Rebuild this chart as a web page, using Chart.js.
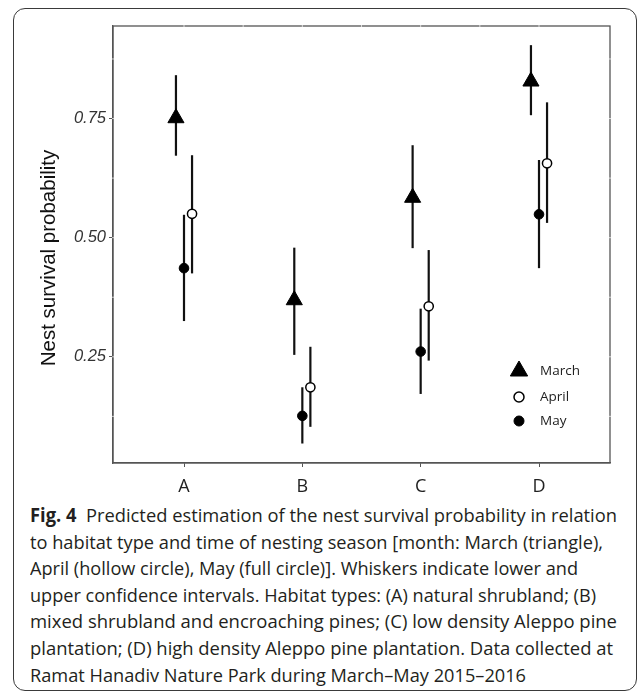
<!DOCTYPE html>
<html>
<head>
<meta charset="utf-8">
<script src="https://cdn.jsdelivr.net/npm/chart.js"></script>
<style>
  body { margin: 0; background: #fff; width: 637px; height: 693px; overflow: hidden; position: relative; }
  .frame { position: absolute; left: 13px; top: 8px; width: 624px; height: 683px; box-sizing: border-box;
           border: 1.5px solid #3a3a3a; border-radius: 12px; }
  #chart { position: absolute; left: 0; top: 0; }
  .caption { position: absolute; left: 30px; top: 502px; font-family: "Open Sans", sans-serif; font-size: 19px;
             line-height: 26.6px; color: #231f20; }
  .caption div { white-space: nowrap; transform-origin: 0 50%; width: max-content; }
  .caption b { font-weight: 700; }
</style>
</head>
<body>
<div class="frame"></div>
<canvas id="chart" width="637" height="500"></canvas>
<div class="caption">
  <div data-w="587"><b>Fig. 4</b>&nbsp; Predicted estimation of the nest survival probability in relation</div>
  <div data-w="573">to habitat type and time of nesting season [month: March (triangle),</div>
  <div data-w="548">April (hollow circle), May (full circle)]. Whiskers indicate lower and</div>
  <div data-w="566">upper confidence intervals. Habitat types: (A) natural shrubland; (B)</div>
  <div data-w="587">mixed shrubland and encroaching pines; (C) low density Aleppo pine</div>
  <div data-w="583">plantation; (D) high density Aleppo pine plantation. Data collected at</div>
  <div data-w="496">Ramat Hanadiv Nature Park during March–May 2015–2016</div>
</div>
<script>
// habitat types and months
const categories = ['A', 'B', 'C', 'D'];
const months = ['March', 'April', 'May'];
const yTicks = [0.25, 0.50, 0.75];
const yMinor = [0.125, 0.375, 0.625, 0.875];

// estimates and confidence limits
const marchEst = [0.751, 0.369, 0.584, 0.828];
const marchLo = [0.672, 0.254, 0.478, 0.757];
const marchHi = [0.841, 0.479, 0.694, 0.904];

const aprilEst = [0.550, 0.186, 0.356, 0.656];
const aprilLo = [0.425, 0.103, 0.242, 0.531];
const aprilHi = [0.673, 0.271, 0.474, 0.784];

const mayEst = [0.436, 0.126, 0.261, 0.549];
const mayLo = [0.325, 0.068, 0.172, 0.436];
const mayHi = [0.548, 0.186, 0.351, 0.663];

// fit caption lines to their width in the figure
document.querySelectorAll('.caption div').forEach(d => {
  const w = d.getBoundingClientRect().width;
  d.style.transform = 'scaleX(' + (+d.dataset.w / w) + ')';
});

const dodge = { March: -0.068, April: 0.068, May: 0 };
const series = [
  { name: 'March', est: marchEst, lo: marchLo, hi: marchHi, style: 'triangle', radius: 9.3, fill: '#000', bw: 1 },
  { name: 'April', est: aprilEst, lo: aprilLo, hi: aprilHi, style: 'circle', radius: 4.6, fill: '#fff', bw: 1.5 },
  { name: 'May', est: mayEst, lo: mayLo, hi: mayHi, style: 'circle', radius: 4.8, fill: '#000', bw: 1 }
];

// whiskers under the points
const whiskers = {
  id: 'whiskers',
  beforeDatasetsDraw(chart) {
    const ctx = chart.ctx, xs = chart.scales.x, ys = chart.scales.y;
    ctx.save();
    ctx.strokeStyle = '#111';
    ctx.lineWidth = 2.2;
    series.forEach(s => {
      categories.forEach((c, i) => {
        const x = xs.getPixelForValue(i + 1 + dodge[s.name]);
        ctx.beginPath();
        ctx.moveTo(x, ys.getPixelForValue(s.lo[i]));
        ctx.lineTo(x, ys.getPixelForValue(s.hi[i]));
        ctx.stroke();
      });
    });
    ctx.restore();
  }
};

// panel border, y title and legend inside the panel
const decor = {
  id: 'decor',
  afterDraw(chart) {
    const ctx = chart.ctx, a = chart.chartArea, xs = chart.scales.x, ys = chart.scales.y;
    ctx.save();
    ctx.strokeStyle = '#555';
    ctx.lineWidth = 1.3;
    ctx.strokeRect(a.left, a.top, a.right - a.left, a.bottom - a.top);

    // the white grid lines of the original show only as nicks in the border
    ctx.strokeStyle = '#fff';
    ctx.lineWidth = 1;
    const gy = yTicks.concat(yMinor).map(v => ys.getPixelForValue(v));
    gy.forEach(y => {
      ctx.beginPath(); ctx.moveTo(a.left - 0.7, y); ctx.lineTo(a.left + 0.7, y); ctx.stroke();
      ctx.beginPath(); ctx.moveTo(a.right - 0.7, y); ctx.lineTo(a.right + 0.7, y); ctx.stroke();
    });
    const gx = [1, 1.5, 2, 2.5, 3, 3.5, 4].map(v => xs.getPixelForValue(v));
    gx.forEach(x => {
      ctx.beginPath(); ctx.moveTo(x, a.top - 0.7); ctx.lineTo(x, a.top + 0.7); ctx.stroke();
    });

    ctx.translate(49, 258);
    ctx.rotate(-Math.PI / 2);
    ctx.fillStyle = '#111';
    ctx.font = '20.5px "Liberation Sans", Arial, sans-serif';
    ctx.textAlign = 'center';
    ctx.textBaseline = 'middle';
    ctx.fillText('Nest survival probability', 0, 0);
    ctx.restore();

    ctx.save();
    const lx = a.right - 91, ly = [371, 397, 421];
    series.forEach((s, k) => {
      ctx.fillStyle = s.fill;
      ctx.strokeStyle = '#000';
      ctx.lineWidth = s.bw;
      Chart.helpers.drawPoint(ctx, { pointStyle: s.style, radius: s.style === 'triangle' ? 10 : 5, borderWidth: s.bw, rotation: 0 }, lx, ly[k]);
      ctx.fillStyle = '#222';
      ctx.font = '13.5px "Open Sans", sans-serif';
      ctx.textBaseline = 'middle';
      ctx.fillText(months[k], lx + 21, ly[k]);
    });
    ctx.restore();
  }
};

new Chart(document.getElementById('chart'), {
  type: 'scatter',
  data: {
    datasets: series.map(s => ({
      label: s.name,
      data: s.est.map((v, i) => ({ x: i + 1 + dodge[s.name], y: v })),
      pointStyle: s.style,
      pointRadius: s.radius,
      pointBackgroundColor: s.fill,
      pointBorderColor: '#000',
      pointBorderWidth: s.bw
    }))
  },
  options: {
    responsive: false,
    animation: false,
    devicePixelRatio: 1,
    layout: { padding: { left: 0, top: 26, right: 27, bottom: 0 } },
    plugins: { legend: { display: false }, tooltip: { enabled: false } },
    scales: {
      x: {
        type: 'linear', min: 0.4, max: 4.6,
        afterFit(s) { s.height = 37; },
        afterBuildTicks(s) { s.ticks = categories.map((c, i) => ({ value: i + 1 })); },
        grid: { drawOnChartArea: false, tickLength: 4, tickColor: '#555', color: '#555' },
        border: { color: '#555', width: 1.3 },
        ticks: {
          padding: 9, color: '#222', maxRotation: 0,
          font: { family: '"Open Sans", sans-serif', size: 18 },
          callback: v => categories[v - 1]
        }
      },
      y: {
        min: 0.0271, max: 0.9442,
        afterFit(s) { s.width = 113; },
        afterBuildTicks(s) { s.ticks = yTicks.map(v => ({ value: v })); },
        grid: { drawOnChartArea: false, tickLength: 4, tickColor: '#555', color: '#555' },
        border: { color: '#555', width: 1.3 },
        ticks: {
          padding: 3, color: '#333',
          font: { family: '"Liberation Sans", Arial, sans-serif', size: 16.5, style: 'italic' },
          callback: v => v.toFixed(2)
        }
      }
    }
  },
  plugins: [whiskers, decor]
});
</script>
</body>
</html>
